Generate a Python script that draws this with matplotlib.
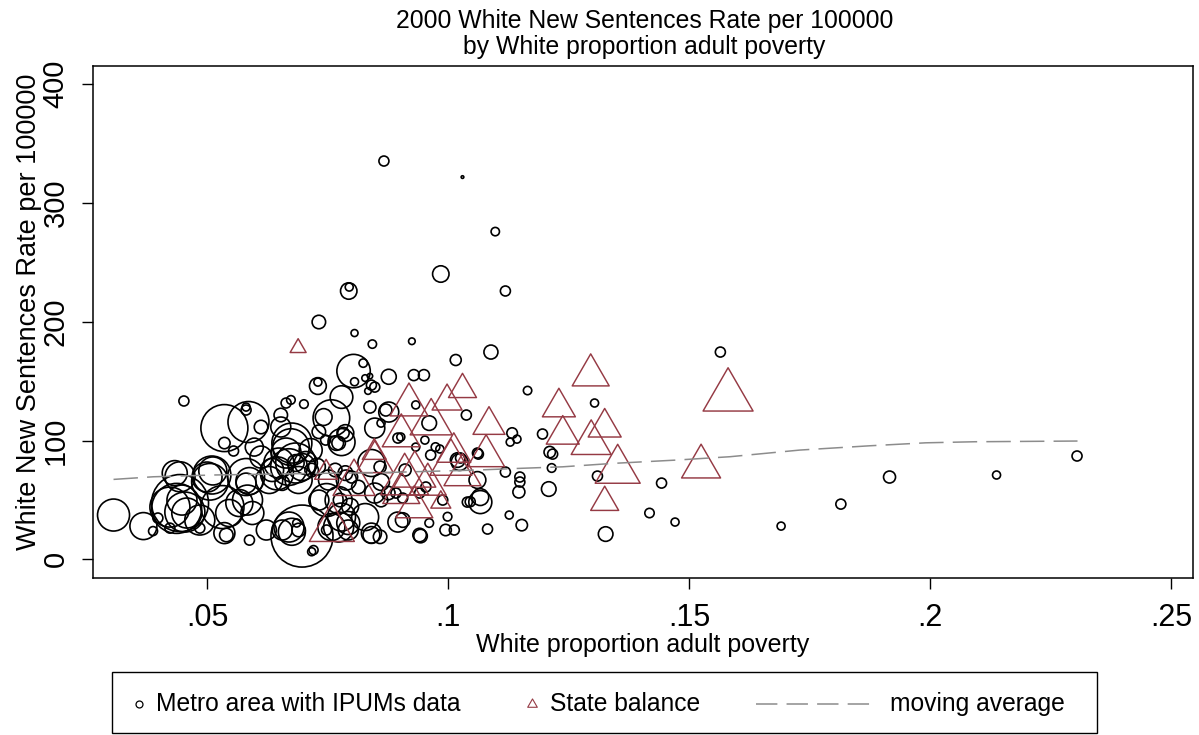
import matplotlib
matplotlib.use("Agg")
import matplotlib.pyplot as plt
import numpy as np
from matplotlib.path import Path
from matplotlib.lines import Line2D
from matplotlib.patches import Rectangle

plt.rcParams['font.family'] = ['Liberation Sans', 'DejaVu Sans']

# metro areas: poverty share, new sentences rate, white adult population (thousands)
metro_pov = [
    0.0306, 0.0368, 0.0388, 0.0398, 0.0444, 0.0454, 0.0458, 0.0423, 0.0423, 0.0485,
    0.0448, 0.0532, 0.0546, 0.0567, 0.0594, 0.0584, 0.0536, 0.0540, 0.0588, 0.0623,
    0.0656, 0.0676, 0.0690, 0.0697, 0.0686, 0.0721, 0.0779, 0.0758, 0.0748, 0.0828,
    0.0841, 0.0848, 0.0861, 0.0433, 0.0510, 0.0512, 0.0581, 0.0588, 0.0664, 0.0684,
    0.0697, 0.0629, 0.0536, 0.0586, 0.0581, 0.0581, 0.0612, 0.0536, 0.0555, 0.0653,
    0.0664, 0.0674, 0.0701, 0.0674, 0.0758, 0.0742, 0.0779, 0.0768, 0.0838, 0.0871,
    0.0848, 0.0861, 0.0732, 0.0806, 0.0843, 0.0804, 0.0824, 0.0806, 0.0828, 0.0838,
    0.0848, 0.0834, 0.0877, 0.0730, 0.0730, 0.0779, 0.0452, 0.0867, 0.1030, 0.1098,
    0.0985, 0.1119, 0.0794, 0.0795, 0.0925, 0.1016, 0.1089, 0.1165, 0.1304, 0.1565,
    0.0929, 0.0950, 0.1443, 0.1418, 0.1471, 0.1327, 0.1691, 0.1815, 0.1916, 0.2138,
    0.2305, 0.0653, 0.0676, 0.0715, 0.0732, 0.0746, 0.0773, 0.0787, 0.0581, 0.0635,
    0.0649, 0.0670, 0.0684, 0.0705, 0.0717, 0.0690, 0.0656, 0.0752, 0.0766, 0.0787,
    0.0800, 0.0485, 0.0670, 0.0717, 0.0732, 0.0773, 0.0773, 0.0793, 0.0500, 0.0841,
    0.0933, 0.1038, 0.1133, 0.1129, 0.0783, 0.0896, 0.0902, 0.0961, 0.0952, 0.0933,
    0.0974, 0.0983, 0.0841, 0.0859, 0.0911, 0.0964, 0.1020, 0.1026, 0.1061, 0.1119,
    0.0789, 0.0814, 0.0861, 0.0876, 0.0892, 0.0906, 0.0941, 0.0954, 0.1061, 0.1067,
    0.1040, 0.0906, 0.0896, 0.0841, 0.0793, 0.0941, 0.0961, 0.0999, 0.0995, 0.1013,
    0.1082, 0.1127, 0.0877, 0.1143, 0.1196, 0.1063, 0.1024, 0.1149, 0.1149, 0.1147,
    0.1211, 0.1217, 0.1215, 0.1209, 0.1310, 0.1067, 0.0989, 0.0943, 0.1153, 0.0612,
    0.0598, 0.0645, 0.0748, 0.0728, 0.0437, 0.0506, 0.0444, 0.0797, 0.0776, 0.1046,
    0.0859,
]
metro_rate = [
    37.3, 28.0, 23.8, 34.8, 47.4, 39.8, 39.0, 44.0, 26.3, 26.3,
    49.9, 44.0, 39.0, 47.4, 39.0, 49.9, 22.1, 20.5, 16.2, 24.7,
    24.7, 23.2, 24.7, 19.6, 30.6, 7.8, 35.6, 27.2, 24.7, 35.6,
    20.5, 55.8, 49.9, 72.6, 71.0, 74.4, 69.3, 65.9, 89.5, 81.1,
    77.7, 66.8, 110.5, 115.6, 128.2, 125.7, 111.4, 97.9, 91.2, 121.5,
    131.6, 134.2, 130.7, 94.5, 118.9, 119.8, 98.7, 97.9, 128.2, 125.7,
    110.5, 114.7, 199.8, 190.5, 181.2, 158.5, 165.2, 149.5, 152.6, 154.3,
    145.0, 141.7, 153.7, 145.9, 149.2, 136.6, 133.3, 335.3, 321.8, 275.9,
    240.2, 225.9, 225.9, 229.2, 183.6, 167.8, 174.5, 142.1, 131.6, 174.5,
    155.1, 155.1, 64.2, 39.0, 31.4, 21.3, 28.0, 46.5, 69.3, 71.0,
    87.0, 111.4, 97.9, 92.0, 107.4, 100.4, 97.9, 106.3, 64.2, 75.2,
    81.1, 77.7, 81.1, 81.1, 75.2, 66.8, 64.2, 66.8, 75.2, 72.6,
    69.3, 33.1, 27.2, 6.4, 49.9, 49.9, 27.2, 24.7, 69.3, 146.7,
    130.0, 121.5, 106.3, 98.7, 106.3, 102.1, 103.0, 114.7, 100.4, 94.5,
    94.5, 92.9, 81.1, 77.7, 75.2, 87.8, 83.6, 85.3, 89.5, 73.5,
    66.8, 60.9, 65.1, 55.8, 55.8, 51.6, 55.8, 60.9, 66.8, 52.4,
    48.2, 33.1, 31.4, 22.1, 30.6, 20.5, 30.6, 35.9, 24.7, 24.7,
    25.5, 37.3, 124.0, 101.2, 105.5, 88.6, 81.9, 65.1, 69.3, 56.7,
    90.3, 88.6, 76.9, 59.2, 70.1, 48.2, 49.9, 19.6, 28.8, 86.1,
    94.5, 72.4, 49.9, 78.0, 42.9, 65.3, 69.5, 44.3, 49.9, 48.5,
    19.0,
]
metro_pop = [
    1024, 729, 81, 100, 3249, 1600, 900, 1600, 100, 100,
    900, 1849, 729, 729, 529, 900, 441, 182, 100, 400,
    400, 729, 182, 3844, 64, 81, 784, 729, 100, 729,
    282, 400, 182, 625, 1444, 784, 1369, 729, 900, 1600,
    729, 729, 2209, 1681, 64, 100, 182, 130, 100, 182,
    100, 74, 74, 1340, 1340, 282, 729, 213, 144, 144,
    400, 64, 182, 49, 70, 1115, 70, 64, 44, 29,
    100, 44, 225, 282, 64, 511, 100, 100, 7, 70,
    270, 100, 270, 64, 44, 121, 196, 70, 64, 100,
    121, 121, 100, 88, 64, 213, 64, 100, 144, 64,
    100, 400, 1600, 529, 182, 100, 182, 282, 400, 529,
    900, 1340, 282, 529, 182, 729, 213, 400, 182, 213,
    144, 900, 900, 64, 400, 729, 900, 400, 900, 100,
    64, 100, 112, 64, 130, 100, 64, 213, 64, 64,
    74, 64, 729, 144, 144, 100, 213, 100, 100, 100,
    400, 182, 282, 182, 100, 100, 100, 100, 282, 282,
    100, 213, 400, 400, 529, 182, 74, 74, 130, 100,
    100, 64, 400, 64, 100, 100, 282, 100, 100, 144,
    130, 100, 74, 213, 100, 529, 100, 182, 130, 484,
    324, 1089, 1089, 282, 2500, 1340, 900, 282, 182, 100,
    182,
]

# state balance (areas outside the sampled metros)
state_pov = [
    0.0689, 0.1296, 0.1581, 0.1030, 0.0998, 0.0919, 0.1085, 0.0965, 0.0903, 0.1012,
    0.1079, 0.0931, 0.0903, 0.1006, 0.0848, 0.1030, 0.0805, 0.0910, 0.0958, 0.0985,
    0.0930, 0.0759, 0.0747, 0.0847, 0.1230, 0.1238, 0.1297, 0.1325, 0.1352, 0.1325,
    0.1525,
]
state_rate = [
    178, 155, 137, 143, 133, 130, 113, 115, 104, 90,
    87, 71, 56, 81, 82, 71, 64, 66, 63, 48,
    44, 26, 73, 90, 128, 105, 98, 111, 75, 48,
    78,
]
state_pop = [
    256, 1369, 2500, 784, 900, 1444, 1024, 1764, 1444, 1156,
    1369, 1764, 1369, 1764, 1369, 1369, 1764, 2304, 1369, 400,
    1369, 2025, 529, 576, 1089, 1089, 1600, 1089, 2025, 784,
    1521,
]

# moving average of the rate across poverty share
ma_pov = [0.0306, 0.0388, 0.0511, 0.0732, 0.0855, 0.1061, 0.1149, 0.1238,
          0.1343, 0.1475, 0.1585, 0.1730, 0.1875, 0.1991, 0.2093, 0.2306]
ma_rate = [67.3, 69.5, 71.0, 72.4, 72.9, 75.2, 76.6, 77.9,
           80.8, 83.6, 86.4, 92.0, 95.6, 98.1, 99.0, 99.6]

MAROON = '#953a44'
GREY = '#8c8c8c'

# equilateral triangle centred on its centroid
h = np.sqrt(3) / 2
tri = Path([(0, 2 * h / 3), (-0.5, -h / 3), (0.5, -h / 3), (0, 2 * h / 3)],
           [Path.MOVETO, Path.LINETO, Path.LINETO, Path.CLOSEPOLY])

fig = plt.figure(figsize=(11.99, 7.35), dpi=100)
ax = fig.add_axes([0.0776, 0.2136, 0.9174, 0.6966])

px2pt = 72 / 100
ax.scatter(metro_pov, metro_rate, s=np.array(metro_pop) * px2pt ** 2,
           facecolors='none', edgecolors='black', linewidths=1.2, zorder=2)
ax.scatter(state_pov, state_rate, s=np.array(state_pop) * (px2pt / 0.866) ** 2,
           marker=tri, facecolors='none', edgecolors=MAROON, linewidths=1.05, zorder=3)
ax.plot(ma_pov, ma_rate, color=GREY, lw=1.1, dashes=(16, 6), zorder=4)

ax.set_xlim(0.02635, 0.25456)
ax.set_ylim(-15.7, 415.3)
ax.set_xticks([0.05, 0.1, 0.15, 0.2, 0.25])
ax.set_xticklabels(['.05', '.1', '.15', '.2', '.25'])
ax.set_yticks([0, 100, 200, 300, 400])
ax.tick_params(axis='both', direction='out', length=8, width=1.0)
ax.tick_params(axis='x', pad=10, labelsize=22)
ax.tick_params(axis='y', pad=9, labelsize=21)
for lab in ax.get_yticklabels():
    lab.set_rotation(90)
    lab.set_va('center')
for sp in ax.spines.values():
    sp.set_linewidth(1.1)

ax.set_xlabel('White proportion adult poverty', fontsize=18, va='center')
ax.xaxis.set_label_coords(0.5, -0.131)
ax.set_ylabel('White New Sentences Rate per 100000', fontsize=19.5, va='center')
ax.yaxis.set_label_coords(-0.058, 0.52)

fig.text(0.5375, 0.9714, '2000 White New Sentences Rate per 100000',
         ha='center', va='center', fontsize=17.8)
fig.text(0.5375, 0.9361, 'by White proportion adult poverty',
         ha='center', va='center', fontsize=17.8)

# legend box along the bottom
W, H = 1199, 735
fig.add_artist(Rectangle((112 / W, 2 / H), 985 / W, 61 / H, transform=fig.transFigure,
                         fill=False, edgecolor='black', linewidth=1.0))
ly = 1 - 704 / H
fig.add_artist(Line2D([139 / W], [ly], transform=fig.transFigure, marker='o', ms=5,
                      mfc='none', mec='black', mew=0.9, linestyle='none'))
fig.add_artist(Line2D([532 / W], [ly], transform=fig.transFigure, marker=tri, ms=8,
                      mfc='none', mec=MAROON, mew=0.8, linestyle='none'))
fig.add_artist(Line2D([756 / W, 872 / W], [ly, ly], transform=fig.transFigure,
                      color=GREY, lw=1.1, dashes=(14, 6)))
fig.text(156 / W, ly, 'Metro area with IPUMs data', ha='left', va='center', fontsize=17.7)
fig.text(550 / W, ly, 'State balance', ha='left', va='center', fontsize=17.7)
fig.text(890 / W, ly, 'moving average', ha='left', va='center', fontsize=17.7)

fig.savefig('out.png', dpi=100)
